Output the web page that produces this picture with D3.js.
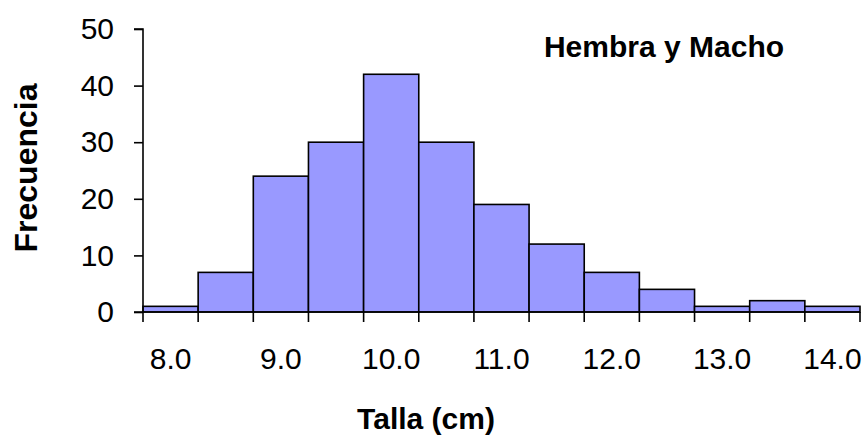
<!DOCTYPE html>
<html>
<head>
<meta charset="utf-8">
<script src="https://cdn.jsdelivr.net/npm/d3@7.9.0/dist/d3.min.js"></script>
<style>
  body { margin: 0; background: #fff; }
  svg { display: block; font-family: "Liberation Sans", Arial, sans-serif; }
</style>
</head>
<body>
<svg id="chart" width="864" height="435"></svg>
<script>
const categories = ['8.0', '8.5', '9.0', '9.5', '10.0', '10.5', '11.0', '11.5', '12.0', '12.5', '13.0', '13.5', '14.0'];
const counts = [1, 7, 24, 30, 42, 30, 19, 12, 7, 4, 1, 2, 1];
const shownLabels = ['8.0', '9.0', '10.0', '11.0', '12.0', '13.0', '14.0'];
const yTicks = [0, 10, 20, 30, 40, 50];

const svg = d3.select('#chart');
const plotLeft = 143, plotRight = 860, plotTop = 29, plotBottom = 312;

const x = d3.scaleBand().domain(categories).range([plotLeft, plotRight]).padding(0);
const y = d3.scaleLinear().domain([0, 50]).range([plotBottom, plotTop]);

// bars
svg.append('g')
  .selectAll('rect')
  .data(categories)
  .join('rect')
  .attr('x', d => x(d))
  .attr('y', (d, i) => y(counts[i]))
  .attr('width', x.bandwidth())
  .attr('height', (d, i) => plotBottom - y(counts[i]))
  .attr('fill', '#9999ff')
  .attr('stroke', '#000')
  .attr('stroke-width', 1.6);

// y axis
const yAxis = svg.append('g')
  .attr('transform', `translate(${plotLeft},0)`)
  .call(d3.axisLeft(y).tickValues(yTicks).tickSize(9).tickPadding(20).tickFormat(d3.format('d')));
yAxis.select('.domain').attr('stroke-width', 1.6).attr('d', `M-9,${plotTop}H0V${plotBottom}`);
yAxis.selectAll('.tick line').attr('stroke-width', 1.6);
yAxis.selectAll('.tick text').attr('font-size', 30).attr('fill', '#000')
  .attr('font-family', '"Liberation Sans", Arial, sans-serif');

// x axis: ticks at bin boundaries, labels on every other category
const xAxis = svg.append('g').attr('transform', `translate(0,${plotBottom})`);
xAxis.append('line')
  .attr('x1', plotLeft - 9).attr('x2', plotRight)
  .attr('stroke', '#000').attr('stroke-width', 1.6);
const edges = categories.map(c => x(c)).concat([x(categories[categories.length - 1]) + x.bandwidth()]);
xAxis.selectAll('line.tk')
  .data(edges)
  .join('line')
  .attr('class', 'tk')
  .attr('x1', d => d).attr('x2', d => d)
  .attr('y1', 0).attr('y2', 10)
  .attr('stroke', '#000').attr('stroke-width', 1.6);
xAxis.selectAll('text')
  .data(shownLabels)
  .join('text')
  .attr('x', d => x(d) + x.bandwidth() / 2)
  .attr('y', 57)
  .attr('text-anchor', 'middle')
  .attr('font-size', 30)
  .text(d => d);

// axis titles
svg.append('text')
  .attr('transform', 'translate(37,168) rotate(-90)')
  .attr('text-anchor', 'middle')
  .attr('font-size', 32)
  .attr('font-weight', 'bold')
  .text('Frecuencia');

svg.append('text')
  .attr('x', 426).attr('y', 429)
  .attr('text-anchor', 'middle')
  .attr('font-size', 30)
  .attr('font-weight', 'bold')
  .text('Talla (cm)');

svg.append('text')
  .attr('x', 664).attr('y', 57)
  .attr('text-anchor', 'middle')
  .attr('font-size', 30)
  .attr('font-weight', 'bold')
  .text('Hembra y Macho');
</script>
</body>
</html>
